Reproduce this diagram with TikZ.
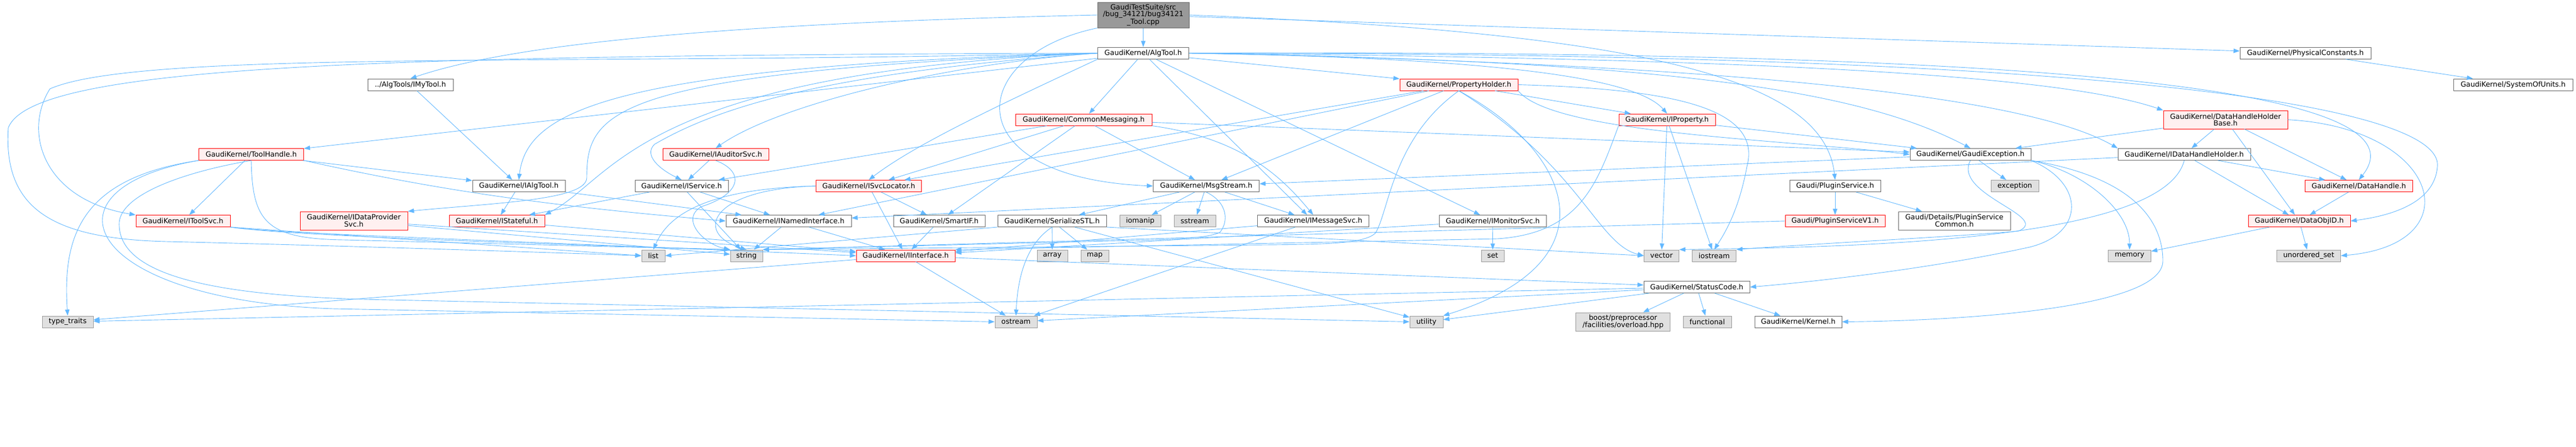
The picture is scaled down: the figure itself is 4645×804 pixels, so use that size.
\documentclass[tikz,border=0pt]{standalone}
\usepackage{fontspec}
\setmainfont{DejaVu Sans}
\usetikzlibrary{arrows.meta,positioning}
\definecolor{edgecol}{HTML}{63B8FF}
\definecolor{trunccol}{HTML}{FF0000}
\definecolor{truncfill}{HTML}{FFF0F0}
\definecolor{sysfill}{HTML}{E0E0E0}
\definecolor{sysdraw}{HTML}{999999}
\definecolor{plaindraw}{HTML}{666666}
\begin{document}
\begin{tikzpicture}[x=1pt,y=-1pt,
    hdr/.style={shape=rectangle, inner sep=0pt, minimum height=21pt, line width=1pt, align=center, anchor=center,
                font=\fontsize{12.8}{12.6}\selectfont},
    plainbox/.style={hdr, draw=plaindraw, fill=white},
    truncbox/.style={hdr, draw=trunccol, fill=truncfill},
    sysbox/.style={hdr, draw=sysdraw, fill=sysfill},
    rootbox/.style={hdr, draw=plaindraw, fill=sysdraw, minimum height=46pt},
    dep/.style={draw=edgecol, line width=0.9pt, -{Triangle[length=11pt,width=8pt]}}]
    \useasboundingbox (0,0) rectangle (4645,804);

    \node[rootbox, minimum width=165pt] (root) at (2061.5,27) {GaudiTestSuite/src\\/bug\_34121/bug34121\\\_Tool.cpp};
    \node[plainbox, minimum width=164pt] (algtool) at (2061.5,95.7) {GaudiKernel/AlgTool.h};
    \node[plainbox, minimum width=236pt] (physconst) at (4157,95.7) {GaudiKernel/PhysicalConstants.h};
    \node[plainbox, minimum width=154pt] (imytool) at (740,152.5) {../AlgTools/IMyTool.h};
    \node[truncbox, minimum width=213pt] (propholder) at (2630.5,152.5) {GaudiKernel/PropertyHolder.h};
    \node[plainbox, minimum width=215pt] (units) at (4531.6,152.5) {GaudiKernel/SystemOfUnits.h};
    \node[truncbox, minimum width=246pt] (commsg) at (1954,215.6) {GaudiKernel/CommonMessaging.h};
    \node[truncbox, minimum width=174pt] (iprop) at (3006,215.6) {GaudiKernel/IProperty.h};
    \node[truncbox, minimum width=224pt, minimum height=33pt] (dhhbase) at (4013,215.6) {GaudiKernel/DataHandleHolder\\Base.h};
    \node[truncbox, minimum width=189pt] (toolhandle) at (453,278) {GaudiKernel/ToolHandle.h};
    \node[truncbox, minimum width=191pt] (iauditor) at (1290.5,278) {GaudiKernel/IAuditorSvc.h};
    \node[plainbox, minimum width=218pt] (gexcept) at (3553,278) {GaudiKernel/GaudiException.h};
    \node[plainbox, minimum width=239pt] (idhholder) at (3938.5,278) {GaudiKernel/IDataHandleHolder.h};
    \node[plainbox, minimum width=167pt] (ialgtool) at (935.5,335) {GaudiKernel/IAlgTool.h};
    \node[plainbox, minimum width=168pt] (iservice) at (1229,335) {GaudiKernel/IService.h};
    \node[truncbox, minimum width=190pt] (isvcloc) at (1566.6,335) {GaudiKernel/ISvcLocator.h};
    \node[plainbox, minimum width=191pt] (msgstream) at (2175,335) {GaudiKernel/MsgStream.h};
    \node[plainbox, minimum width=164pt] (plugsvc) at (3309,335) {Gaudi/PluginService.h};
    \node[sysbox, minimum width=86pt] (exception) at (3633,335) {exception};
    \node[truncbox, minimum width=194pt] (datahandle) at (4253.4,335) {GaudiKernel/DataHandle.h};
    \node[truncbox, minimum width=170pt] (itoolsvc) at (330,398) {GaudiKernel/IToolSvc.h};
    \node[truncbox, minimum width=194pt, minimum height=33pt] (idataprov) at (638,397.5) {GaudiKernel/IDataProvider\\Svc.h};
    \node[truncbox, minimum width=172pt] (istateful) at (896,398) {GaudiKernel/IStateful.h};
    \node[plainbox, minimum width=226pt] (inamed) at (1422,398) {GaudiKernel/INamedInterface.h};
    \node[plainbox, minimum width=165pt] (smartif) at (1693.5,398) {GaudiKernel/SmartIF.h};
    \node[plainbox, minimum width=196pt] (serstl) at (1897,398) {GaudiKernel/SerializeSTL.h};
    \node[sysbox, minimum width=74pt] (iomanip) at (2056,398) {iomanip};
    \node[sysbox, minimum width=75pt] (sstream) at (2154.5,398) {sstream};
    \node[plainbox, minimum width=201pt] (imsgsvc) at (2368,398) {GaudiKernel/IMessageSvc.h};
    \node[plainbox, minimum width=193pt] (imonsvc) at (2691.7,398) {GaudiKernel/IMonitorSvc.h};
    \node[truncbox, minimum width=180pt] (plugvone) at (3309,398) {Gaudi/PluginServiceV1.h};
    \node[plainbox, minimum width=202pt, minimum height=33pt] (plugcommon) at (3524,397.5) {Gaudi/Details/PluginService\\Common.h};
    \node[truncbox, minimum width=184pt] (dataobjid) at (4146,398) {GaudiKernel/DataObjID.h};
    \node[sysbox, minimum width=42pt] (list) at (1178,460.5) {list};
    \node[sysbox, minimum width=58pt] (string) at (1346,460.5) {string};
    \node[truncbox, minimum width=178pt] (iinterface) at (1633,460.5) {GaudiKernel/IInterface.h};
    \node[sysbox, minimum width=55pt] (array) at (1897.5,460.5) {array};
    \node[sysbox, minimum width=50pt] (map) at (1974,460.5) {map};
    \node[sysbox, minimum width=41pt] (set) at (2691.6,460.5) {set};
    \node[sysbox, minimum width=63pt] (vector) at (2996,460.5) {vector};
    \node[sysbox, minimum width=79pt] (iostream) at (3091,460.5) {iostream};
    \node[sysbox, minimum width=77pt] (memory) at (3840,460.5) {memory};
    \node[sysbox, minimum width=115pt] (uset) at (4163,460.5) {unordered\_set};
    \node[plainbox, minimum width=191pt] (statuscode) at (3059.6,517) {GaudiKernel/StatusCode.h};
    \node[sysbox, minimum width=92pt] (typetraits) at (122,579.5) {type\_traits};
    \node[sysbox, minimum width=76pt] (ostream) at (1832,579.5) {ostream};
    \node[sysbox, minimum width=60pt] (utility) at (2572,579.5) {utility};
    \node[sysbox, minimum width=170pt, minimum height=33pt] (boost) at (2926.6,579.5) {boost/preprocessor\\/facilities/overload.hpp};
    \node[sysbox, minimum width=87pt] (functional) at (3078.5,579.5) {functional};
    \node[plainbox, minimum width=157pt] (kernel) at (3242.5,579.5) {GaudiKernel/Kernel.h};

    \foreach \s/\t in {root/algtool, root/physconst, imytool/ialgtool, physconst/units,
                       algtool/commsg, algtool/toolhandle, algtool/propholder, algtool/imonsvc, algtool/imsgsvc,
                       propholder/isvcloc, propholder/msgstream, propholder/iprop, propholder/inamed,
                       commsg/msgstream, commsg/isvcloc, commsg/iservice, commsg/smartif, commsg/gexcept,
                       iprop/vector, iprop/iostream, iprop/gexcept,
                       dhhbase/idhholder, dhhbase/datahandle, dhhbase/dataobjid, dhhbase/gexcept,
                       toolhandle/itoolsvc, toolhandle/ialgtool, iauditor/iservice,
                       gexcept/exception, gexcept/msgstream, idhholder/dataobjid, idhholder/datahandle, idhholder/inamed,
                       ialgtool/istateful, ialgtool/inamed, iservice/inamed, iservice/istateful, iservice/string,
                       isvcloc/iinterface, isvcloc/smartif,
                       msgstream/serstl, msgstream/iomanip, msgstream/sstream, msgstream/imsgsvc,
                       plugsvc/plugvone, plugsvc/plugcommon, datahandle/dataobjid,
                       inamed/string, inamed/iinterface, smartif/iinterface,
                       serstl/array, serstl/map, serstl/utility,
                       imonsvc/set, imonsvc/iinterface, imsgsvc/iinterface, imsgsvc/ostream,
                       dataobjid/uset, dataobjid/memory,
                       istateful/iinterface, idataprov/iinterface, idataprov/string,
                       statuscode/boost, statuscode/functional, statuscode/kernel,
                       statuscode/ostream, statuscode/typetraits, statuscode/utility,
                       iinterface/statuscode, iinterface/ostream, iinterface/typetraits}
      \draw[dep] (\s) -- (\t);

    \draw[dep] (root.west) .. controls (1400,40) and (950,70) .. (imytool.north);
    \draw[dep] (root.south west) .. controls (1740,100) and (1720,320) .. (msgstream.west);
    \draw[dep] (root.east) .. controls (3000,60) and (3290,150) .. (plugsvc.north);

    \draw[dep] (algtool.west) .. controls (1000,118) and (250,90) .. (90,160) .. controls (40,240) and (80,360) .. (itoolsvc.north west);
    \draw[dep] (algtool.west) .. controls (700,100) and (60,115) .. (15,230) .. controls (5,380) and (100,430) .. (300,435)
                             .. controls (600,442) and (1000,455) .. (list.west);
    \draw[dep] (algtool.west) .. controls (1100,120) and (950,200) .. (ialgtool.north);
    \draw[dep] (algtool.west) .. controls (1150,130) and (1110,320) .. (istateful.north east);
    \draw[dep] (algtool.west) .. controls (1100,130) and (1058,200) .. (1058,320) .. controls (1058,360) and (900,365) .. (idataprov.north east);
    \draw[dep] (algtool.west) .. controls (1500,130) and (1300,190) .. (1180,260) .. controls (1160,280) and (1190,305) .. (iservice.north);
    \draw[dep] (algtool.west) .. controls (1700,115) and (1400,190) .. (iauditor.north);
    \draw[dep] (algtool.south west) .. controls (1800,190) and (1650,260) .. (isvcloc.north);
    \draw[dep] (algtool.east) .. controls (2700,105) and (2950,140) .. (iprop.north);
    \draw[dep] (algtool.east) .. controls (3000,110) and (3350,160) .. (gexcept.north);
    \draw[dep] (algtool.east) .. controls (3100,105) and (3700,130) .. (dhhbase.north west);
    \draw[dep] (algtool.east) .. controls (3100,115) and (3650,170) .. (idhholder.north west);
    \draw[dep] (algtool.east) .. controls (3500,90) and (4400,140) .. (datahandle.north);
    \draw[dep] (algtool.east) .. controls (4300,95) and (4400,250) .. (4395,300) .. controls (4390,370) and (4300,390) .. (dataobjid.east);

    \draw[dep] (commsg.south east) .. controls (2250,250) and (2320,330) .. (imsgsvc.north);

    \draw[dep] (propholder.south) .. controls (2510,250) and (2505,380) .. (2480,420) .. controls (2460,438) and (2400,440) .. (2280,441) -- (string.north east);
    \draw[dep] (propholder.south) .. controls (2850,300) and (2880,440) .. (vector.west);
    \draw[dep] (propholder.south) .. controls (2830,270) and (2920,470) .. (utility.north east);
    \draw[dep] (propholder.south east) .. controls (2800,240) and (3200,250) .. (gexcept.west);
    \draw[dep] (propholder.east) .. controls (3000,160) and (3180,190) .. (3150,300) .. controls (3135,380) and (3110,420) .. (iostream.north);

    \draw[dep] (iprop.south west) .. controls (2880,330) and (2850,420) .. (2700,430) -- (iinterface.north east);

    \draw[dep] (toolhandle.south west) .. controls (150,320) and (112,420) .. (typetraits.north);
    \draw[dep] (toolhandle.south west) .. controls (60,340) and (150,540) .. (600,556) -- (ostream.west);
    \draw[dep] (toolhandle.south) .. controls (330,310) and (220,350) .. (215,400) .. controls (210,500) and (400,535) .. (700,540) -- (utility.west);
    \draw[dep] (toolhandle.south) .. controls (455,400) and (480,430) .. (620,432) -- (string.north west);
    \draw[dep] (toolhandle.south east) .. controls (800,345) and (1000,372) .. (inamed.west);

    \draw[dep] (itoolsvc.south east) .. controls (500,420) and (700,425) .. (iinterface.west);
    \draw[dep] (itoolsvc.south east) -- (list.west);
    \draw[dep] (itoolsvc.south east) .. controls (520,425) and (1000,440) .. (string.north west);

    \draw[dep] (iauditor.south) .. controls (1345,310) and (1335,350) .. (1265,372) .. controls (1225,395) and (1270,440) .. (string.north west);
    \draw[dep] (isvcloc.west) .. controls (1280,340) and (1250,420) .. (string.north);
    \draw[dep] (isvcloc.west) .. controls (1250,340) and (1200,400) .. (list.north);

    \draw[dep] (msgstream.south) .. controls (2215,365) and (2215,400) .. (2200,418) .. controls (2180,430) and (2100,432) .. (2000,434) -- (string.north east);
    \draw[dep] (serstl.south west) -- (list.east);
    \draw[dep] (serstl.south east) -- (vector.west);
    \draw[dep] (serstl.south) .. controls (1850,440) and (1835,500) .. (ostream.north);
    \draw[dep] (plugvone.west) -- (string.north east);

    \draw[dep] (idhholder.south) .. controls (3900,440) and (3300,445) .. (vector.north east);
    \draw[dep] (dhhbase.east) .. controls (4400,230) and (4460,440) .. (uset.east);

    \draw[dep] (gexcept.south) .. controls (3520,350) and (3700,390) .. (3640,416) .. controls (3550,425) and (3250,440) .. (iostream.north east);
    \draw[dep] (gexcept.south east) .. controls (3760,330) and (3760,420) .. (3660,445) .. controls (3500,480) and (3300,505) .. (statuscode.east);
    \draw[dep] (gexcept.south east) .. controls (3760,310) and (3840,380) .. (memory.north);
    \draw[dep] (gexcept.south east) .. controls (3850,320) and (3900,400) .. (3900,470) .. controls (3900,560) and (3500,578) .. (kernel.east);
\end{tikzpicture}
\end{document}
